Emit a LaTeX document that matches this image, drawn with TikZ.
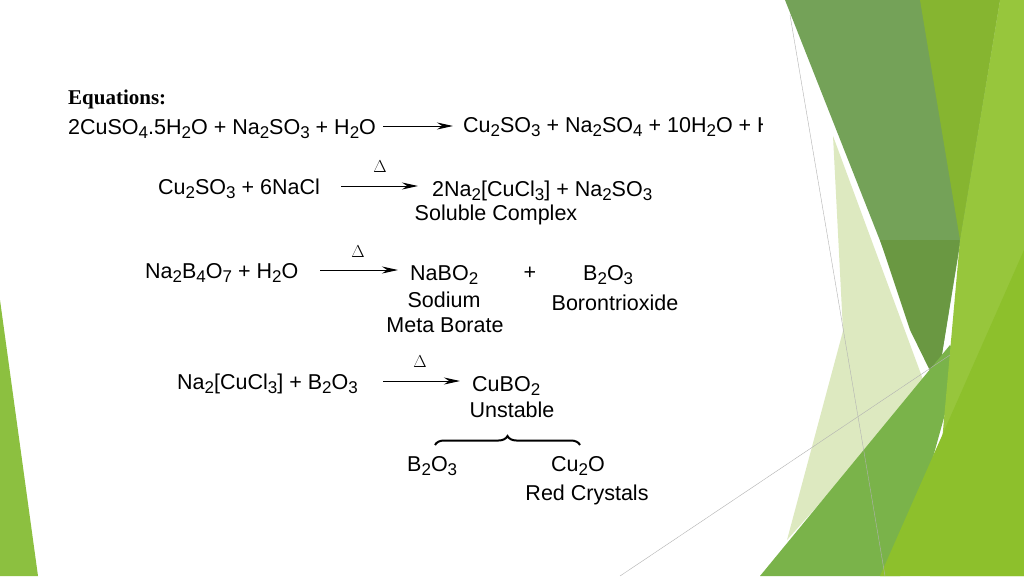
\documentclass[tikz,border=0pt]{standalone}
\usepackage{fontspec}
\setmainfont{Liberation Sans}
\newfontfamily\titlefont{Liberation Serif}
\usetikzlibrary{arrows.meta, positioning, decorations.pathreplacing}
\newcommand{\subs}[1]{\raisebox{-0.35ex}{\fontsize{17}{18}\selectfont #1}}
\tikzset{
    chem/.style={inner sep=0pt, anchor=west, font=\fontsize{21.5}{24}\selectfont},
    lbl/.style={inner sep=0pt, font=\fontsize{21.5}{24}\selectfont},
    rxn/.style={-{Stealth[length=16pt, width=7pt]}, line width=1pt},
    heat/.style={inner sep=0pt, font=\fontsize{17}{18}\selectfont},
    thin line/.style={draw=gray!60, line width=0.4pt}
}
\begin{document}
\begin{tikzpicture}[x=1pt, y=-1pt]
    \useasboundingbox (0,0) rectangle (1024,576);
    \fill[white] (0,0) rectangle (1024,576);
    % slide decoration
    \fill[color={rgb,255:red,221;green,233;blue,192}] (833,136) -- (925,385) -- (787,540) -- (843,331) -- cycle;
    \fill[color={rgb,255:red,116;green,162;blue,88}] (785,0) -- (1000,0) -- (937,385) -- cycle;
    \fill[color={rgb,255:red,134;green,181;blue,48}] (920,0) -- (1000,0) -- (960,240) -- cycle;
    \fill[color={rgb,255:red,106;green,152;blue,66}] (880,240) -- (960,240) -- (937,385) -- (910,330) -- cycle;
    \fill[color={rgb,255:red,122;green,179;blue,74}] (760,576) -- (950,345) -- (960,360) -- (900,576) -- cycle;
    \fill[color={rgb,255:red,151;green,198;blue,60}] (1000,0) -- (1024,0) -- (1024,576) -- (930,576) -- (960,240) -- cycle;
    \fill[color={rgb,255:red,141;green,192;blue,44}] (880,576) -- (1024,250) -- (1024,576) -- cycle;
    \fill[color={rgb,255:red,140;green,192;blue,64}] (0,300) -- (38,576) -- (0,576) -- cycle;
    \draw[thin line] (790,15) -- (885,576);
    \draw[thin line] (620,576) -- (950,355);
    % equations
    \node[inner sep=0pt, anchor=west, font=\titlefont\bfseries\fontsize{21}{24}\selectfont] (title) at (68,99) {Equations:};
    \begin{scope}
        \clip (0,0) rectangle (762,576);
        \node[chem] (l1) at (68,129) {2CuSO\subs{4}.5H\subs{2}O + Na\subs{2}SO\subs{3} + H\subs{2}O};
        \node[chem] (r1) at (463,127) {Cu\subs{2}SO\subs{3} + Na\subs{2}SO\subs{4} + 10H\subs{2}O + H};
    \end{scope}
    \coordinate (a1s) at (383,126); \coordinate (a1e) at (453,126);
    \draw[rxn] (a1s) -- (a1e);

    \node[chem] (l2) at (158,189) {Cu\subs{2}SO\subs{3} + 6NaCl};
    \node[chem] (r2) at (432,191) {2Na\subs{2}[CuCl\subs{3}] + Na\subs{2}SO\subs{3}};
    \node[lbl] (n2) at (496,215) {Soluble Complex};
    \coordinate (a2s) at (341,186); \coordinate (a2e) at (418,186);
    \draw[rxn] (a2s) -- (a2e);
    \node[heat] (h2) at (380,167) {$\Delta$};

    \node[chem] (l3) at (145,273) {Na\subs{2}B\subs{4}O\subs{7} + H\subs{2}O};
    \node[chem] (r3) at (410,275) {NaBO\subs{2}};
    \node[lbl] (p3) at (530,273) {+};
    \node[chem] (b3) at (583,275) {B\subs{2}O\subs{3}};
    \node[lbl] (n3a) at (444,300) {Sodium};
    \node[lbl] (n3b) at (445,325) {Meta Borate};
    \node[lbl] (n3c) at (615,303) {Borontrioxide};
    \coordinate (a3s) at (320,270); \coordinate (a3e) at (398,270);
    \draw[rxn] (a3s) -- (a3e);
    \node[heat] (h3) at (358,252) {$\Delta$};

    \node[chem] (l4) at (177,384) {Na\subs{2}[CuCl\subs{3}] + B\subs{2}O\subs{3}};
    \node[chem] (r4) at (472,386) {CuBO\subs{2}};
    \node[lbl] (n4) at (512,410) {Unstable};
    \coordinate (a4s) at (383,381); \coordinate (a4e) at (460,381);
    \draw[rxn] (a4s) -- (a4e);
    \node[heat] (h4) at (420,362) {$\Delta$};
    \coordinate (bl) at (435,445); \coordinate (br) at (580,445);
    \draw[decorate, decoration={brace, amplitude=9pt}, line width=2pt] (bl) -- (br);
    \node[chem] (p4a) at (407,466) {B\subs{2}O\subs{3}};
    \node[chem] (p4b) at (551,466) {Cu\subs{2}O};
    \node[lbl] (n4b) at (587,495) {Red Crystals};
\end{tikzpicture}
\end{document}
